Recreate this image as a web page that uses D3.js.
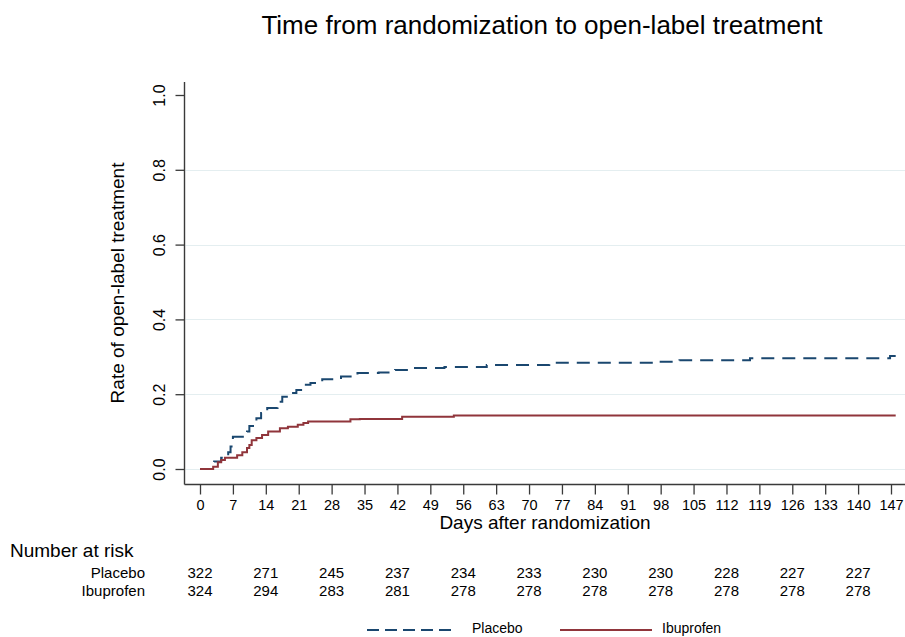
<!DOCTYPE html>
<html>
<head>
<meta charset="utf-8">
<script src="https://cdn.jsdelivr.net/npm/d3@7"></script>
<style>
  html, body { margin: 0; padding: 0; background: #fff; }
  svg { display: block; }
  text { font-family: "Liberation Sans", Arial, sans-serif; fill: #000; }
</style>
</head>
<body>
<svg id="chart" width="905" height="637"></svg>
<script>
// ---- Data ----
const placeboTimes = [0, 3, 4.5, 6, 6.5, 7, 10, 10.5, 12, 13, 14.3, 16.5, 17.5, 19.5, 20.5, 22, 23.5, 26, 30, 33.5, 38, 41.5, 44.5, 52, 61, 74.3, 98, 102, 117, 146.8, 148];
const placeboRates = [0, 0.02, 0.03, 0.045, 0.06, 0.086, 0.10, 0.115, 0.136, 0.15, 0.163, 0.18, 0.193, 0.203, 0.211, 0.225, 0.23, 0.24, 0.247, 0.257, 0.258, 0.265, 0.27, 0.273, 0.278, 0.284, 0.287, 0.291, 0.296, 0.302, 0.302];

const ibuTimes = [0, 2.8, 3.8, 4.5, 5.3, 7.9, 9, 10, 10.5, 11, 12, 13.2, 14.5, 17, 18.7, 20.8, 22, 23, 32, 34, 43, 54, 148];
const ibuRates = [0, 0.006, 0.018, 0.024, 0.03, 0.037, 0.045, 0.056, 0.064, 0.077, 0.083, 0.091, 0.10, 0.109, 0.113, 0.118, 0.123, 0.127, 0.133, 0.134, 0.14, 0.143, 0.143];

const xTicks = [0, 7, 14, 21, 28, 35, 42, 49, 56, 63, 70, 77, 84, 91, 98, 105, 112, 119, 126, 133, 140, 147];
const yTicks = [0, 0.2, 0.4, 0.6, 0.8, 1.0];
const gridTicks = [0, 0.2, 0.4, 0.6, 0.8];

const riskTimes = [0, 14, 28, 42, 56, 70, 84, 98, 112, 126, 140];
const riskPlacebo = [322, 271, 245, 237, 234, 233, 230, 230, 228, 227, 227];
const riskIbuprofen = [324, 294, 283, 281, 278, 278, 278, 278, 278, 278, 278];

const groups = ["Placebo", "Ibuprofen"];
const colors = ["#1a476f", "#90353b"];

// ---- Chart ----
const svg = d3.select("#chart");
const x = d3.scaleLinear().domain([0, 147]).range([200, 891]);
const y = d3.scaleLinear().domain([0, 1]).range([469, 95]);

const axisColor = "#3a3a3a";
const axisLeftX = 184.5, axisBottomY = 484.5;

// grid
svg.append("g").selectAll("line").data(gridTicks).join("line")
  .attr("x1", axisLeftX + 1).attr("x2", 905)
  .attr("y1", d => Math.round(y(d)) + 0.5).attr("y2", d => Math.round(y(d)) + 0.5)
  .attr("stroke", "#e4eef0").attr("stroke-width", 1.2);

// title
svg.append("text").attr("x", 542).attr("y", 34).attr("text-anchor", "middle")
  .attr("font-size", 26).text("Time from randomization to open-label treatment");

// y axis
const yAxis = d3.axisLeft(y).tickValues(yTicks).tickFormat(d3.format(".1f")).tickSize(9).tickSizeOuter(0);
const gy = svg.append("g").attr("transform", `translate(${axisLeftX},0)`).call(yAxis);
gy.select(".domain").remove();
gy.selectAll(".tick line").attr("stroke", axisColor).attr("stroke-width", 1.3);
gy.selectAll(".tick text").remove();
gy.selectAll(".tick").append("text")
  .attr("transform", "translate(-25,0) rotate(-90)")
  .attr("text-anchor", "middle").attr("dy", "0.35em")
  .attr("font-size", 16).attr("fill", "#222")
  .text(d => d3.format(".1f")(d));
svg.append("line").attr("x1", axisLeftX).attr("x2", axisLeftX).attr("y1", 82).attr("y2", axisBottomY)
  .attr("stroke", axisColor).attr("stroke-width", 1.4);

// x axis
const xAxis = d3.axisBottom(x).tickValues(xTicks).tickSize(10).tickSizeOuter(0).tickPadding(5);
const gx = svg.append("g").attr("transform", `translate(0,${axisBottomY})`).call(xAxis);
gx.select(".domain").remove();
gx.selectAll(".tick line").attr("stroke", axisColor).attr("stroke-width", 1.3);
gx.selectAll(".tick text").attr("font-size", 14.5).attr("font-family", "Liberation Sans, Arial, sans-serif").attr("fill", "#222");
svg.append("line").attr("x1", axisLeftX).attr("x2", 905).attr("y1", axisBottomY).attr("y2", axisBottomY)
  .attr("stroke", axisColor).attr("stroke-width", 1.4);

// axis titles
svg.append("text").attr("x", 545).attr("y", 529).attr("text-anchor", "middle")
  .attr("font-size", 19).text("Days after randomization");
svg.append("text").attr("transform", `translate(124,283) rotate(-90)`).attr("text-anchor", "middle")
  .attr("font-size", 19).text("Rate of open-label treatment");

// curves
const line = d3.line().x(d => x(d[0])).y(d => y(d[1])).curve(d3.curveStepAfter);
const series = [
  { times: placeboTimes, rates: placeboRates, dash: "13,8" },
  { times: ibuTimes, rates: ibuRates, dash: null }
];
series.forEach((s, i) => {
  const pts = s.times.map((t, j) => [t, s.rates[j]]);
  svg.append("path").datum(pts).attr("d", line)
    .attr("fill", "none").attr("stroke", colors[i]).attr("stroke-width", 2)
    .attr("stroke-dasharray", s.dash);
});

// number at risk
svg.append("text").attr("x", 10).attr("y", 557).attr("font-size", 19).text("Number at risk");
const riskRows = [riskPlacebo, riskIbuprofen];
const rowY = [578, 596];
riskRows.forEach((row, i) => {
  svg.append("text").attr("x", 145).attr("y", rowY[i]).attr("text-anchor", "end")
    .attr("font-size", 15).text(groups[i]);
  svg.append("g").selectAll("text").data(row).join("text")
    .attr("x", (d, j) => x(riskTimes[j])).attr("y", rowY[i])
    .attr("text-anchor", "middle").attr("font-size", 15).text(d => d);
});

// legend
const legendItems = [
  { x1: 367, x2: 457, tx: 472, dash: "12,6" },
  { x1: 560, x2: 652, tx: 662, dash: null }
];
legendItems.forEach((L, i) => {
  svg.append("line").attr("x1", L.x1).attr("x2", L.x2).attr("y1", 630).attr("y2", 630)
    .attr("stroke", colors[i]).attr("stroke-width", 2).attr("stroke-dasharray", L.dash);
  svg.append("text").attr("x", L.tx).attr("y", 633).attr("font-size", 14).text(groups[i]);
});
</script>
</body>
</html>
